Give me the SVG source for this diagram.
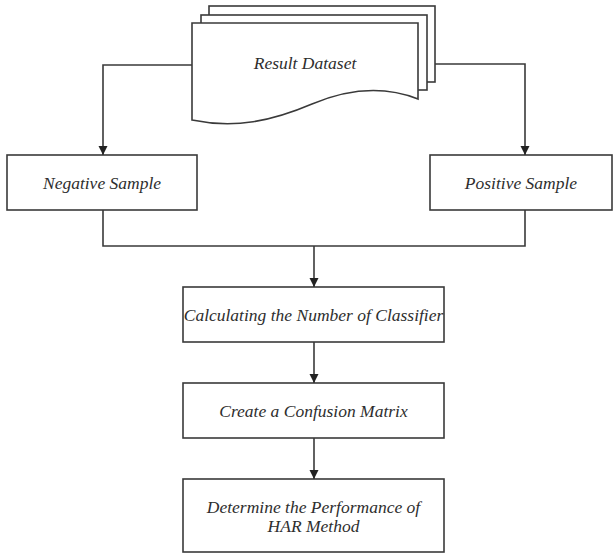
<svg xmlns="http://www.w3.org/2000/svg" width="614" height="556" viewBox="0 0 614 556">
<style>
.b{fill:#fff;stroke:#3a3a3a;stroke-width:1.6}
.t{font-family:"Liberation Serif","Times New Roman",serif;font-style:italic;font-size:17.5px;fill:#2e2e2e;text-anchor:middle}
.c{fill:none;stroke:#3a3a3a;stroke-width:1.6}
</style>
<defs>
<marker id="ar" markerWidth="10" markerHeight="10" refX="9" refY="5" orient="auto" markerUnits="userSpaceOnUse">
<path d="M0,0.5 L9,5 L0,9.5 Z" fill="#222"/>
</marker>
</defs>
<rect width="614" height="556" fill="#fff"/>
<g id="result-dataset">
<rect class="b" x="209" y="6" width="226" height="76"/>
<rect class="b" x="201" y="15" width="226" height="75"/>
<path class="b" d="M192,23 H418 V99 C385,86 350,88 312,104 C272,121 235,129 192,120 Z"/>
<text class="t" x="305" y="69">Result Dataset</text>
</g>
<g id="negative-sample">
<rect class="b" x="7" y="155" width="190" height="55"/>
<text class="t" x="102" y="189">Negative Sample</text>
</g>
<g id="positive-sample">
<rect class="b" x="430" y="155" width="182" height="55"/>
<text class="t" x="521" y="189">Positive Sample</text>
</g>
<g id="calculating">
<rect class="b" x="183" y="287" width="261" height="55"/>
<text class="t" x="313.5" y="321">Calculating the Number of Classifier</text>
</g>
<g id="confusion">
<rect class="b" x="183" y="383" width="261" height="55"/>
<text class="t" x="313.5" y="417">Create a Confusion Matrix</text>
</g>
<g id="performance">
<rect class="b" x="183" y="479" width="261" height="73"/>
<text class="t" x="313.5" y="513">Determine the Performance of</text>
<text class="t" x="313.5" y="532">HAR Method</text>
</g>
<g id="connectors">
<path class="c" d="M192,65 H103 V155" marker-end="url(#ar)"/>
<path class="c" d="M435,64 H525 V155" marker-end="url(#ar)"/>
<path class="c" d="M103,210 V246 H525 V210"/>
<path class="c" d="M314,246 V287" marker-end="url(#ar)"/>
<path class="c" d="M314,342 V383" marker-end="url(#ar)"/>
<path class="c" d="M314,438 V479" marker-end="url(#ar)"/>
</g>
</svg>
